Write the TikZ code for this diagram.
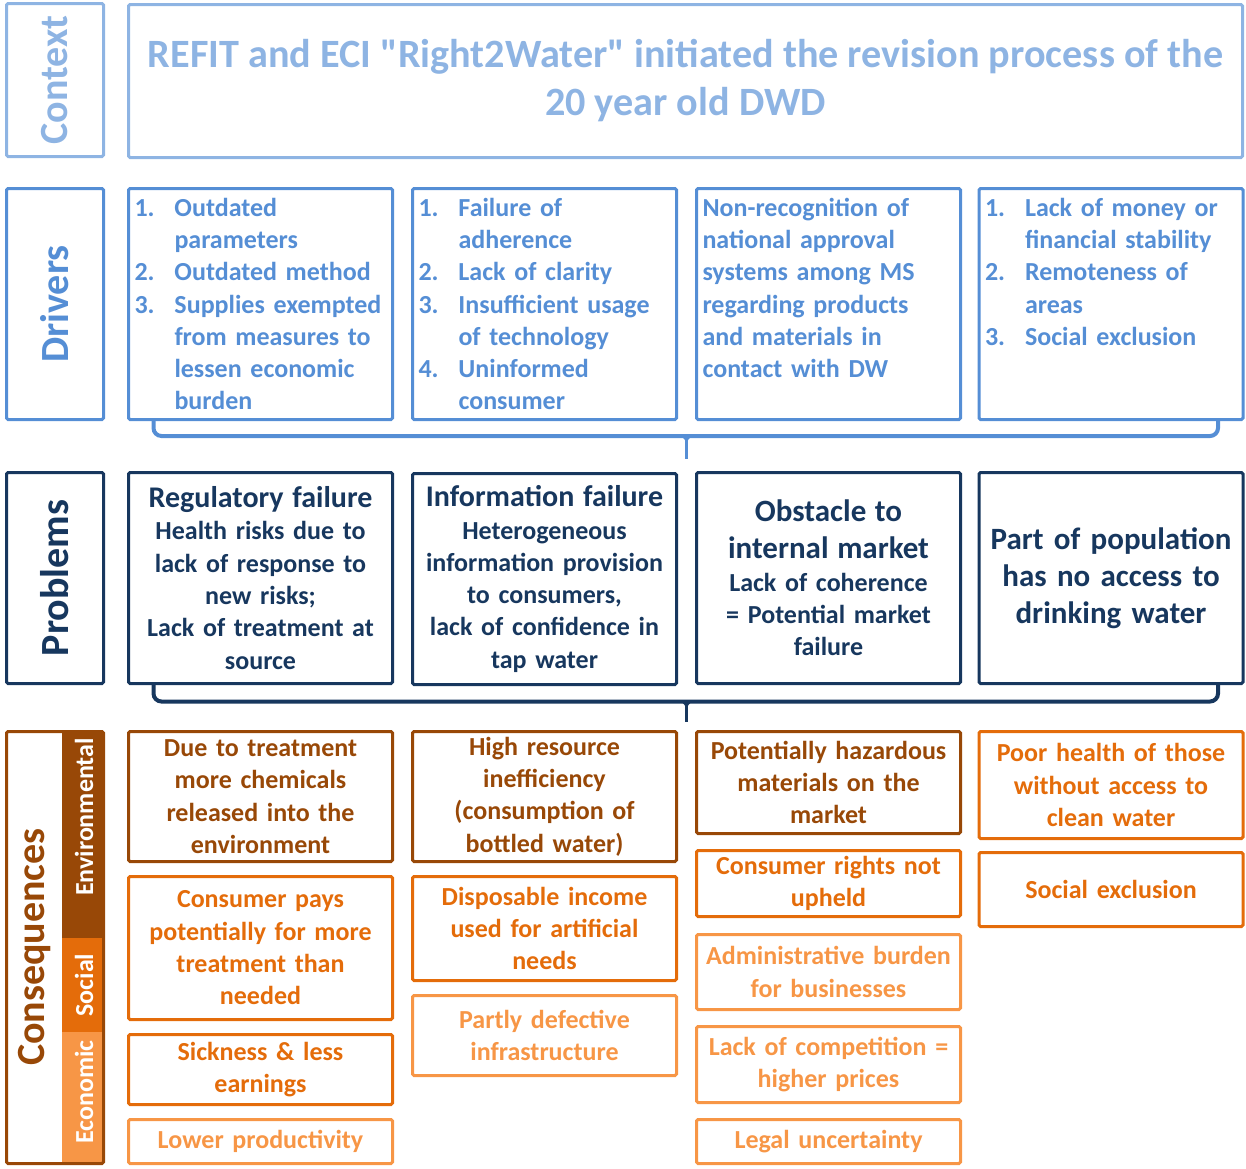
\documentclass[tikz,border=0pt]{standalone}
\usepackage{fontspec}
\setmainfont{Carlito}[Ligatures=TeXOff]
\usetikzlibrary{positioning, calc}
\definecolor{ctxblue}{HTML}{8EB4E3}
\definecolor{drvblue}{HTML}{558ED5}
\definecolor{prbnavy}{HTML}{17375E}
\definecolor{envbrown}{HTML}{984807}
\definecolor{socorange}{HTML}{E46C0A}
\definecolor{ecoorange}{HTML}{F79646}
\newcommand{\bigfont}{\fontsize{40}{48}\selectfont\bfseries}
\newcommand{\ttlfont}{\fontsize{40.2}{48}\selectfont\bfseries}
\newcommand{\midfont}{\fontsize{31}{37}\selectfont\bfseries}
\newcommand{\hdfont}{\fontsize{30}{34}\selectfont\bfseries}
\newcommand{\txtfont}{\fontsize{26}{32.3}\selectfont\bfseries}
\newcommand{\strfont}{\fontsize{26}{30}\selectfont\bfseries}
\newcommand{\drvnum}[1]{\makebox[40pt][l]{#1}}
\newcommand{\drvind}{\makebox[40pt]{}}
\tikzset{boxcell/.style={draw, line width=3pt, rounded corners=1.5pt, inner sep=0pt, align=center}}
\tikzset{ctxcell/.style={boxcell, draw=ctxblue, text=ctxblue}}
\tikzset{drvcell/.style={boxcell, draw=drvblue, text=drvblue, align=left, text width=252pt, minimum width=264pt, minimum height=231pt, font=\txtfont}}
\tikzset{prbcell/.style={boxcell, draw=prbnavy, text=prbnavy, text width=258pt, minimum width=264pt, minimum height=211pt, font=\txtfont}}
\tikzset{envcell/.style={boxcell, draw=envbrown, text=envbrown, text width=258pt, minimum width=264pt, font=\txtfont}}
\tikzset{soccell/.style={boxcell, draw=socorange, text=socorange, text width=258pt, minimum width=264pt, font=\txtfont}}
\tikzset{ecocell/.style={boxcell, draw=ecoorange, text=ecoorange, text width=258pt, minimum width=264pt, font=\txtfont}}
\tikzset{sidecell/.style={boxcell, rotate=90, minimum height=97pt, font=\bigfont}}
\tikzset{strip/.style={inner sep=0pt, minimum width=41pt}}
\tikzset{striplbl/.style={rotate=90, text=white, font=\strfont, inner sep=0pt}}
\tikzset{bracepath/.style={line width=4pt, rounded corners=8pt}}
\tikzset{bracetip/.style={line width=3pt}}

\begin{document}
\begin{tikzpicture}[x=1pt, y=-1pt]
    \useasboundingbox (0,0) rectangle (1246,1168);

    % context
    \node[sidecell, draw=ctxblue, text=ctxblue, minimum width=153pt] (ctx) at (55,80) {Context};
    \node[ctxcell, minimum width=1114pt, minimum height=153pt, font=\ttlfont] (title) at (685.5,81)
        {REFIT and ECI "Right2Water" initiated the revision process of the\\ 20 year old DWD};

    % drivers
    \node[sidecell, draw=drvblue, text=drvblue, minimum width=231pt] (drv) at (55,304) {Drivers};
    \node[drvcell] (d1) at (260.5,304) {\drvnum{1.}Outdated\\ \drvind parameters\\ \drvnum{2.}Outdated method\\
        \drvnum{3.}Supplies exempted\\ \drvind from measures to\\ \drvind lessen economic\\ \drvind burden};
    \node[drvcell] (d2) at (544.5,304) {\drvnum{1.}Failure of\\ \drvind adherence\\ \drvnum{2.}Lack of clarity\\
        \drvnum{3.}Insufficient usage\\ \drvind of technology\\ \drvnum{4.}Uninformed\\ \drvind consumer};
    \node[drvcell] (d3) at (828.5,304) {Non-recognition of\\ national approval\\ systems among MS\\
        regarding products\\ and materials in\\ contact with DW\\ ~};
    \node[drvcell] (d4) at (1111,304) {\drvnum{1.}Lack of money or\\ \drvind financial stability\\
        \drvnum{2.}Remoteness of\\ \drvind areas\\ \drvnum{3.}Social exclusion\\ ~\\ ~};

    % problems
    \node[sidecell, draw=prbnavy, text=prbnavy, minimum width=211pt] (prb) at (55,578) {Problems};
    \node[prbcell] (p1) at (260.5,578) {\hdfont Regulatory failure\\ \txtfont Health risks due to\\
        lack of response to\\ new risks;\\ Lack of treatment at\\ source};
    \node[prbcell] (p2) at (544.5,579) {\hdfont Information failure\\ \txtfont Heterogeneous\\
        information provision\\ to consumers,\\ lack of confidence in\\ tap water};
    \node[prbcell] (p3) at (828.5,578) {\midfont Obstacle to\\ \midfont internal market\\ \txtfont Lack of coherence\\
        = Potential market\\ failure};
    \node[prbcell, font=\midfont] (p4) at (1111,578) {Part of population\\ has no access to\\ drinking water};

    % braces
    \coordinate (t1) at ($(d2.south east)!0.5!(d3.south west)+(0,-15pt)$);
    \coordinate (t1e) at ($(p2.north east)!0.5!(p3.north west)+(0,13pt)$);
    \draw[bracepath, drvblue] ([xshift=-107pt]d1.south) |- (t1) -| ([xshift=107pt]d4.south);
    \draw[bracetip, drvblue] (t1) -- (t1e);
    \fill[drvblue] ($(t1)+(-8pt,0)$) to[out=0, in=90] ($(t1)+(0,-10pt)$) to[out=90, in=180] ($(t1)+(8pt,0)$) -- cycle;

    % consequences
    \node[strip, fill=envbrown, minimum height=206pt] (envstrip) at (82.5,835) {};
    \node[strip, fill=socorange, minimum height=94pt] (socstrip) at (82.5,985) {};
    \node[strip, fill=ecoorange, minimum height=130pt] (ecostrip) at (82.5,1097) {};
    \node[striplbl] (envlbl) at (84,817) {Environmental};
    \node[striplbl] (soclbl) at (84,985) {Social};
    \node[striplbl] (ecolbl) at (84,1092) {Economic};
    \node[boxcell, draw=envbrown, minimum width=97pt, minimum height=432pt] (cons) at (55,947.5) {};
    \node[rotate=90, text=envbrown, font=\bigfont, inner sep=0pt] (conslbl) at (35,947) {Consequences};

    \node[envcell, minimum height=130pt] (c1a) at (260.5,796.5) {Due to treatment\\ more chemicals\\ released into the\\ environment};
    \node[soccell, minimum height=143pt] (c1b) at (260.5,948) {Consumer pays\\ potentially for more\\ treatment than\\ needed};
    \node[soccell, minimum height=70pt] (c1c) at (260.5,1069.5) {Sickness \& less\\ earnings};
    \node[ecocell, minimum height=44pt] (c1d) at (260.5,1141.5) {Lower productivity};

    \node[envcell, minimum height=130pt] (c2a) at (544.5,796.5) {High resource\\ inefficiency\\ (consumption of\\ bottled water)};
    \node[soccell, minimum height=104pt] (c2b) at (544.5,928.5) {Disposable income\\ used for artificial\\ needs};
    \node[ecocell, minimum height=80pt] (c2c) at (544.5,1035.5) {Partly defective\\ infrastructure};

    \node[envcell, minimum height=102pt] (c3a) at (828.5,782.5) {Potentially hazardous\\ materials on the\\ market};
    \node[soccell, minimum height=66pt] (c3b) at (828.5,883.5) {Consumer rights not\\ upheld};
    \node[ecocell, minimum height=75pt] (c3c) at (828.5,972) {Administrative burden\\ for businesses};
    \node[ecocell, minimum height=76pt] (c3d) at (828.5,1064.5) {Lack of competition =\\ higher prices};
    \node[ecocell, minimum height=44pt] (c3e) at (828.5,1141.5) {Legal uncertainty};

    \node[soccell, minimum height=107pt] (c4a) at (1111,785) {Poor health of those\\ without access to\\ clean water};
    \node[soccell, minimum height=74pt] (c4b) at (1111,889.5) {Social exclusion};

    \coordinate (t2) at ($(p2.south east)!0.5!(p3.south west)+(0,-16pt)$);
    \coordinate (t2e) at ($(c2a.north east)!0.5!(c3a.north west)+(0,8pt)$);
    \draw[bracepath, prbnavy] ([xshift=-107pt]p1.south) |- (t2) -| ([xshift=107pt]p4.south);
    \draw[bracetip, prbnavy] (t2) -- (t2e);
    \fill[prbnavy] ($(t2)+(-8pt,0)$) to[out=0, in=90] ($(t2)+(0,-10pt)$) to[out=90, in=180] ($(t2)+(8pt,0)$) -- cycle;
\end{tikzpicture}
\end{document}
